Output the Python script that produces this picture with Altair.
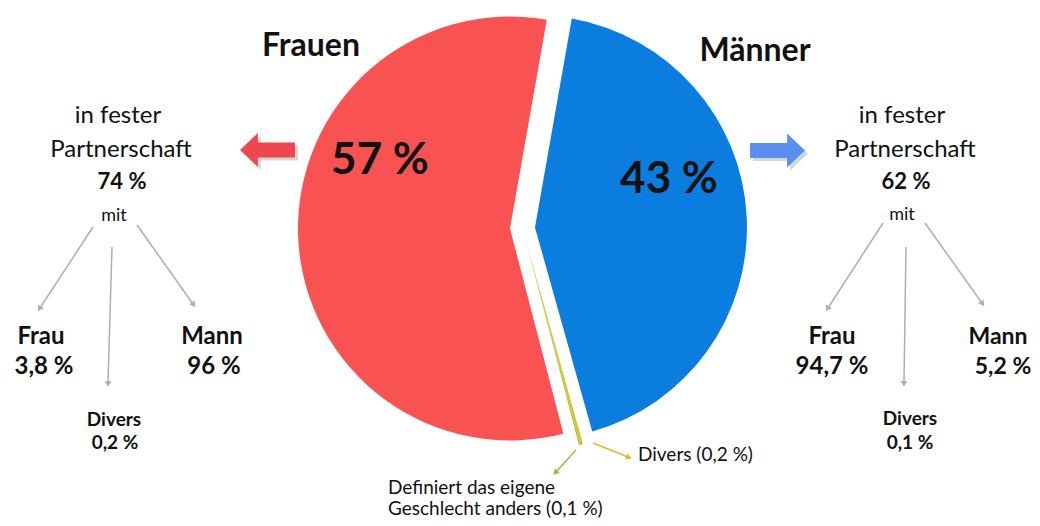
import altair as alt
import pandas as pd

# ---------------- data ----------------
categories = ["Männer", "Divers", "Definiert das eigene Geschlecht anders", "Frauen"]
shares = [43, 0.2, 0.1, 57]
slice_colors = ["#0A7DDE", "#E3C01B", "#8CC152", "#F95252"]

# text annotations
label_text = ["Frauen", "Männer", "57 %", "43 %",
              "in fester", "Partnerschaft", "74 %", "mit",
              "Frau", "3,8 %", "Mann", "96 %", "Divers", "0,2 %",
              "in fester", "Partnerschaft", "62 %", "mit",
              "Frau", "94,7 %", "Mann", "5,2 %", "Divers", "0,1 %",
              "Divers (0,2 %)", "Definiert das eigene", "Geschlecht anders (0,1 %)"]
label_x = [311, 755, 380, 669,
           118, 121, 122, 114,
           41, 44, 212, 214, 114, 115,
           902, 905, 906, 902,
           832, 832, 998, 1003, 910, 910,
           638, 388, 388]
label_y = [46, 51, 161, 180,
           116, 150, 182, 216,
           337, 367, 337, 367, 420, 443,
           116, 150, 182, 215,
           337, 367, 337, 367, 419, 443,
           455, 488, 509]
label_size = [32, 32, 44, 44,
              24, 24, 22, 18,
              24, 24, 24, 24, 19, 19,
              24, 24, 22, 18,
              24, 24, 23, 23, 19, 19,
              19, 19, 19]
label_bold = [True, True, True, True,
              False, False, True, False,
              True, True, True, True, True, True,
              False, False, True, False,
              True, True, True, True, True, True,
              False, False, False]
label_align = ["center"] * 24 + ["left", "left", "left"]

# connector arrows (tree + pie pointers)
seg_x = [93, 112, 137, 883, 906, 925, 593, 576]
seg_y = [227, 247, 225, 223, 247, 223, 443, 450]
seg_x2 = [40, 108, 193, 828, 904, 982, 628, 556]
seg_y2 = [308, 383, 304, 308, 383, 303, 457, 472]
seg_color = ["#AEAEAE"] * 6 + ["#E8B828", "#8CC152"]

# block arrows
block_x = [267.5, 777.5]
block_y = [150, 150.5]
block_color = ["#F0474E", "#5A8EEF"]

# ---------------- layout ----------------
W, H = 1024, 512
X0, Y0 = 8, 8
CX, CY = 522.5, 228
R = 212
EXPLODE = 12.5
START_RAD = 0.1745
FONT = "Lato"

xs = alt.Scale(domain=[X0, X0 + W], nice=False, zero=False)
ys = alt.Scale(domain=[Y0, Y0 + H], nice=False, zero=False, reverse=True)

pie_df = pd.DataFrame({"cat": categories, "share": shares, "order": list(range(len(categories)))})

pie = (
    alt.Chart(pie_df)
    .transform_joinaggregate(total="sum(share)")
    .transform_window(cum="sum(share)", sort=[alt.SortField("order")], frame=[None, 0])
    .transform_calculate(t1=f"{START_RAD} + 2*PI*datum.cum/datum.total")
    .transform_calculate(t0="datum.t1 - 2*PI*datum.share/datum.total")
    .transform_calculate(mid="(datum.t0 + datum.t1)/2")
    .transform_calculate(cx=f"{CX} + {EXPLODE}*sin(datum.mid)")
    .transform_calculate(cy=f"{CY} - {EXPLODE}*cos(datum.mid)")
    .mark_arc(radius=R)
    .encode(
        theta=alt.Theta("t0:Q", scale=None, stack=None),
        theta2="t1:Q",
        x=alt.X("cx:Q", scale=xs, axis=None),
        y=alt.Y("cy:Q", scale=ys, axis=None),
        color=alt.Color("cat:N", scale=alt.Scale(domain=categories, range=slice_colors), legend=None),
    )
)

lab_df = pd.DataFrame({"text": label_text, "x": label_x, "y": label_y, "size": label_size,
                       "bold": label_bold, "align": label_align})

text_layers = []
for bold in (True, False):
    for align in ("center", "left"):
        sub = lab_df[(lab_df["bold"] == bold) & (lab_df["align"] == align)]
        if len(sub) == 0:
            continue
        text_layers.append(
            alt.Chart(sub)
            .mark_text(font=FONT, fontWeight="bold" if bold else "normal", align=align,
                       baseline="middle", color="#111111")
            .encode(
                x=alt.X("x:Q", scale=xs, axis=None),
                y=alt.Y("y:Q", scale=ys, axis=None),
                text="text:N",
                size=alt.Size("size:Q", scale=None),
            )
        )

seg_df = pd.DataFrame({"x": seg_x, "y": seg_y, "x2": seg_x2, "y2": seg_y2, "c": seg_color})

segs = alt.Chart(seg_df).mark_rule(strokeWidth=1.5).encode(
    x=alt.X("x:Q", scale=xs, axis=None),
    y=alt.Y("y:Q", scale=ys, axis=None),
    x2="x2:Q",
    y2="y2:Q",
    color=alt.Color("c:N", scale=None),
)

heads = (
    alt.Chart(seg_df)
    .transform_calculate(ang="(atan2(datum.x2 - datum.x, -(datum.y2 - datum.y))*180/PI + 360) % 360")
    .mark_point(shape="triangle", filled=True, size=45, opacity=1)
    .encode(
        x=alt.X("x2:Q", scale=xs, axis=None),
        y=alt.Y("y2:Q", scale=ys, axis=None),
        angle=alt.Angle("ang:Q", scale=None),
        color=alt.Color("c:N", scale=None),
    )
)

left_path = "M -1 0 L -0.35 -0.62 L -0.35 -0.27 L 1 -0.27 L 1 0.27 L -0.35 0.27 L -0.35 0.62 Z"
right_path = "M 1 0 L 0.35 -0.62 L 0.35 -0.27 L -1 -0.27 L -1 0.27 L 0.35 0.27 L 0.35 0.62 Z"

blk_df = pd.DataFrame({"x": block_x, "y": block_y, "c": block_color,
                       "shape": [left_path, right_path]})

block_shadow = (
    alt.Chart(blk_df)
    .transform_calculate(sx="datum.x + 3", sy="datum.y + 3")
    .mark_point(filled=True, size=3025, opacity=0.3, color="#777777")
    .encode(
        x=alt.X("sx:Q", scale=xs, axis=None),
        y=alt.Y("sy:Q", scale=ys, axis=None),
        shape=alt.Shape("shape:N", scale=None),
    )
)

blocks = (
    alt.Chart(blk_df)
    .mark_point(filled=True, size=3025, opacity=1)
    .encode(
        x=alt.X("x:Q", scale=xs, axis=None),
        y=alt.Y("y:Q", scale=ys, axis=None),
        shape=alt.Shape("shape:N", scale=None),
        color=alt.Color("c:N", scale=None),
    )
)

chart = (
    alt.layer(pie, block_shadow, blocks, segs, heads, *text_layers)
    .properties(width=W, height=H, padding=0, autosize=alt.AutoSizeParams(type="none"),
                background="white")
    .configure_view(stroke=None)
)

chart.save("out.html", embed_options={"renderer": "svg", "actions": False})
